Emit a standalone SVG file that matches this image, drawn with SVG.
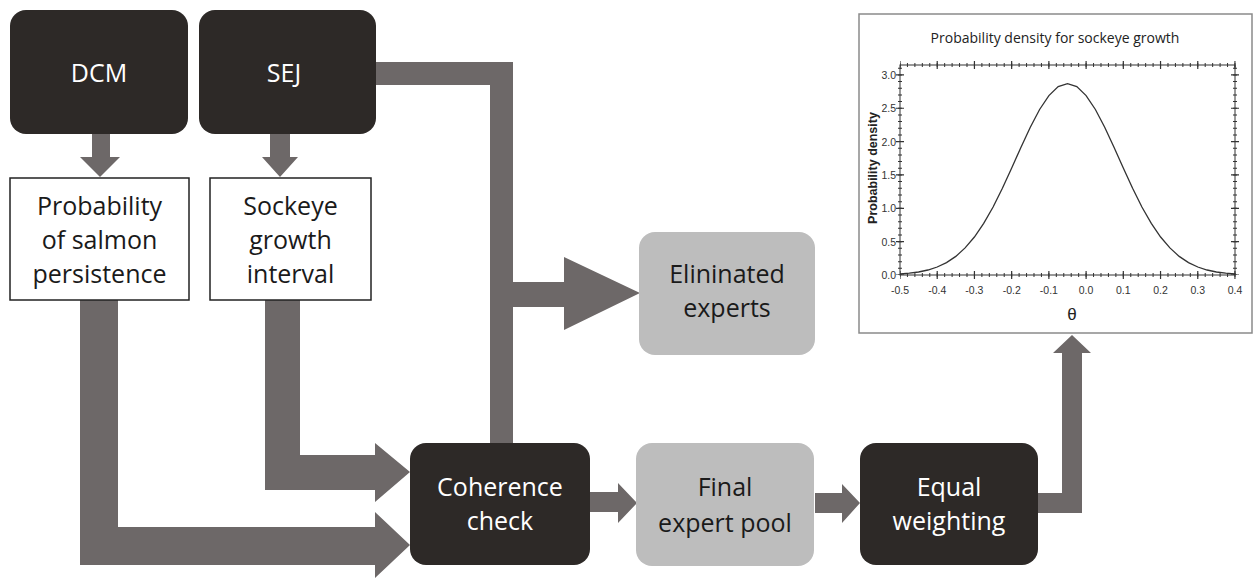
<svg xmlns="http://www.w3.org/2000/svg" width="1256" height="578" viewBox="0 0 1256 578">
  <style>
    .dark { fill: #2d2927; }
    .light { fill: #bdbdbd; }
    .plain { fill: #ffffff; stroke: #222222; stroke-width: 1.5; }
    .conn { fill: #6d6868; }
    .tw { font-family: "Open Sans", "Liberation Sans", sans-serif; font-size: 25px; fill: #ffffff; text-anchor: middle; }
    .tb { font-family: "Open Sans", "Liberation Sans", sans-serif; font-size: 25px; fill: #1a1a1a; text-anchor: middle; }
    .tick { font-family: "Liberation Sans", Arial, sans-serif; font-size: 10.5px; fill: #333333; }
  </style>
  <rect width="1256" height="578" fill="#ffffff"/>

  <g id="connectors">
    <polygon class="conn" points="92,134 110,134 110,157 120,157 100,177 80,157 92,157"/>
    <polygon class="conn" points="270,134 290,134 290,157 298,157 280,177 262,157 270,157"/>
    <polygon class="conn" points="376,62 513,62 513,282 564,282 564,257 640,293 564,330 564,307 513,307 513,443 490,443 490,85 376,85"/>
    <polygon class="conn" points="265,300 300,300 300,455 375,455 375,443 410,472 375,502 375,490 265,490"/>
    <polygon class="conn" points="80,300 118,300 118,527 375,527 375,512 410,545 375,578 375,565 80,565"/>
    <polygon class="conn" points="590,492 618,492 618,483 637,503 618,523 618,512 590,512"/>
    <polygon class="conn" points="815,493 842,493 842,484 860,503 842,523 842,513 815,513"/>
    <polygon class="conn" points="1037,493 1062,493 1062,353 1053,353 1072,335 1091,353 1082,353 1082,513 1037,513"/>
  </g>

  <g id="dcm">
    <rect class="dark" x="10" y="10" width="178" height="124" rx="16"/>
    <text class="tw" x="99" y="82">DCM</text>
  </g>
  <g id="sej">
    <rect class="dark" x="199" y="10" width="177" height="124" rx="16"/>
    <text class="tw" x="284" y="82">SEJ</text>
  </g>
  <g id="prob-persistence">
    <rect class="plain" x="10" y="178" width="179" height="122"/>
    <text class="tb" x="99.5" y="215">Probability</text>
    <text class="tb" x="99.5" y="249">of salmon</text>
    <text class="tb" x="99.5" y="283">persistence</text>
  </g>
  <g id="sockeye-interval">
    <rect class="plain" x="210" y="178" width="161" height="122"/>
    <text class="tb" x="290.5" y="215">Sockeye</text>
    <text class="tb" x="290.5" y="249">growth</text>
    <text class="tb" x="290.5" y="283">interval</text>
  </g>
  <g id="eliminated">
    <rect class="light" x="639" y="232" width="176" height="123" rx="16"/>
    <text class="tb" x="727" y="283">Elininated</text>
    <text class="tb" x="727" y="317">experts</text>
  </g>
  <g id="coherence">
    <rect class="dark" x="410" y="443" width="180" height="122" rx="16"/>
    <text class="tw" x="500" y="496">Coherence</text>
    <text class="tw" x="500" y="530">check</text>
  </g>
  <g id="final-pool">
    <rect class="light" x="636" y="443" width="178" height="123" rx="16"/>
    <text class="tb" x="725" y="496">Final</text>
    <text class="tb" x="725" y="532">expert pool</text>
  </g>
  <g id="equal-weighting">
    <rect class="dark" x="860" y="443" width="178" height="122" rx="16"/>
    <text class="tw" x="949" y="496">Equal</text>
    <text class="tw" x="949" y="530">weighting</text>
  </g>

  <g id="chart">
    <rect x="859" y="14" width="393" height="319" fill="#ffffff" stroke="#8a8a8a" stroke-width="1.5"/>
    <text x="1055" y="43" font-family="Open Sans, Liberation Sans, sans-serif" font-size="14" fill="#222" text-anchor="middle">Probability density for sockeye growth</text>
    <rect x="900" y="65" width="335" height="210" fill="none" stroke="#333" stroke-width="1"/>
    <g stroke="#333">
      <line x1="900" y1="275" x2="1235.5" y2="275" stroke-width="4" stroke-dasharray="1 6.444" stroke-dashoffset="0.5"/>
      <line x1="900" y1="65" x2="1235.5" y2="65" stroke-width="4" stroke-dasharray="1 6.444" stroke-dashoffset="0.5"/>
      <line x1="900" y1="275" x2="1235.5" y2="275" stroke-width="8" stroke-dasharray="1.2 36.02" stroke-dashoffset="0.6"/>
      <line x1="900" y1="65" x2="1235.5" y2="65" stroke-width="8" stroke-dasharray="1.2 36.02" stroke-dashoffset="0.6"/>
      <line x1="900" y1="275" x2="900" y2="65" stroke-width="4" stroke-dasharray="1 5.67" stroke-dashoffset="0.5"/>
      <line x1="1235" y1="275" x2="1235" y2="65" stroke-width="4" stroke-dasharray="1 5.67" stroke-dashoffset="0.5"/>
      <line x1="900" y1="275" x2="900" y2="65" stroke-width="8" stroke-dasharray="1.2 32.15" stroke-dashoffset="0.6"/>
      <line x1="1235" y1="275" x2="1235" y2="65" stroke-width="8" stroke-dasharray="1.2 32.15" stroke-dashoffset="0.6"/>
    </g>
    <polyline fill="none" stroke="#333" stroke-width="1.3" points="900,274 909.3,273.2 918.6,272 927.9,270 937.2,267 946.5,262.6 955.8,256.4 965.1,247.9 974.4,237 983.7,223.4 993.1,207 1002.4,188.3 1011.7,168.1 1021,147.2 1030.3,127.2 1039.6,109.5 1048.9,95.6 1058.2,86.6 1067.5,83.6 1076.8,86.6 1086.1,95.6 1095.4,109.5 1104.7,127.2 1114,147.2 1123.3,168.1 1132.6,188.3 1141.9,207 1151.3,223.4 1160.6,237 1169.9,247.9 1179.2,256.4 1188.5,262.6 1197.8,267 1207.1,270 1216.4,272 1225.7,273.2 1235,274"/>
    <g class="tick" text-anchor="end">
      <text x="896" y="79">3.0</text>
      <text x="896" y="112">2.5</text>
      <text x="896" y="146">2.0</text>
      <text x="896" y="179">1.5</text>
      <text x="896" y="212">1.0</text>
      <text x="896" y="246">0.5</text>
      <text x="896" y="279">0.0</text>
    </g>
    <g class="tick" text-anchor="middle">
      <text x="900" y="294">-0.5</text>
      <text x="937.2" y="294">-0.4</text>
      <text x="974.4" y="294">-0.3</text>
      <text x="1011.7" y="294">-0.2</text>
      <text x="1048.9" y="294">-0.1</text>
      <text x="1086.1" y="294">0.0</text>
      <text x="1123.3" y="294">0.1</text>
      <text x="1160.6" y="294">0.2</text>
      <text x="1197.8" y="294">0.3</text>
      <text x="1235" y="294">0.4</text>
    </g>
    <text x="1072" y="320" font-family="Liberation Sans, Arial, sans-serif" font-size="17" fill="#222" text-anchor="middle">θ</text>
    <text transform="translate(877,168) rotate(-90)" font-family="Liberation Sans, Arial, sans-serif" font-size="12.5" font-weight="bold" fill="#222" text-anchor="middle">Probability density</text>
  </g>
</svg>
